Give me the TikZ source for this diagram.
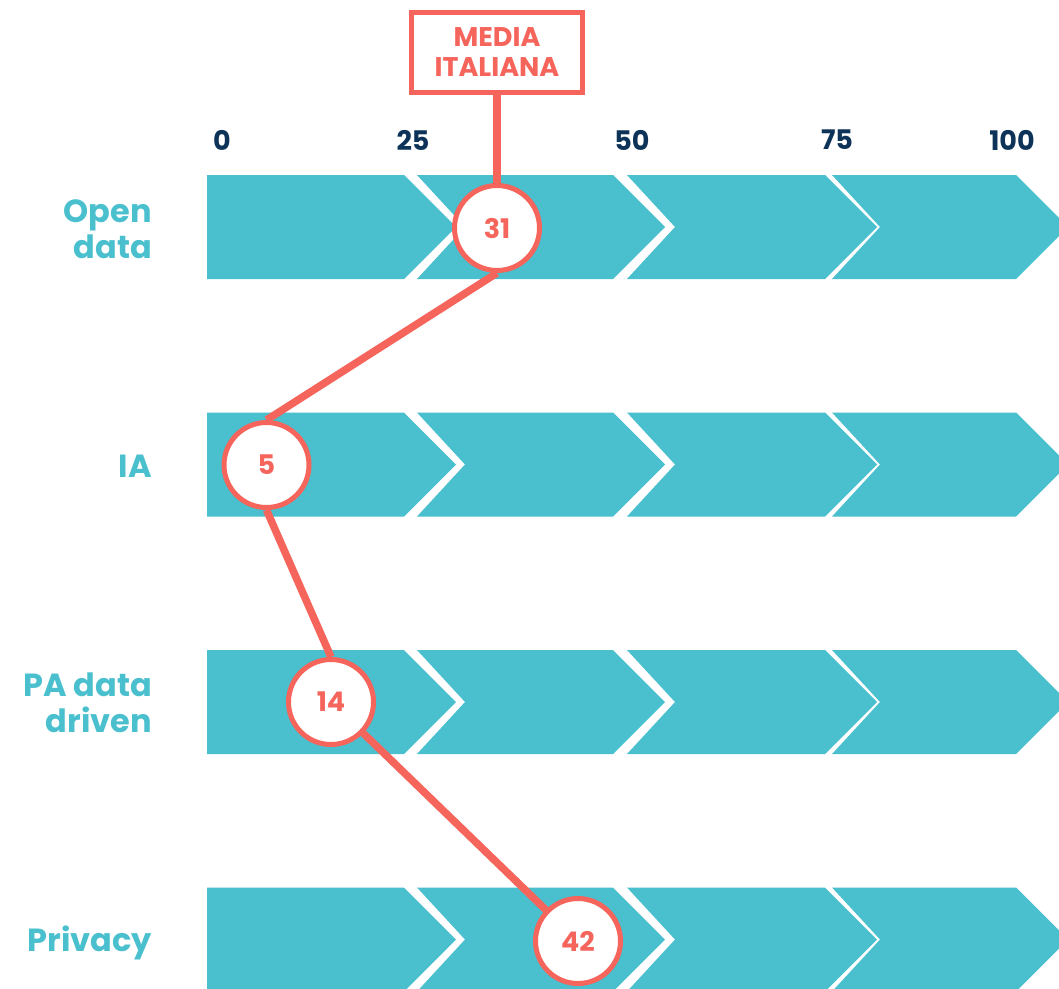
\documentclass[tikz,border=0pt]{standalone}
\usepackage{fontspec}
\setmainfont{Poppins}
\definecolor{teal}{RGB}{74,191,206}
\definecolor{coral}{RGB}{245,101,92}
\definecolor{navy}{RGB}{14,51,88}
\tikzset{
  bar/.style={fill=teal},
  dot/.style={circle,draw=coral,fill=white,line width=5pt,minimum size=85pt,inner sep=0pt,
    text=coral,font=\fontsize{27}{27}\selectfont\bfseries},
  link/.style={draw=coral,line width=7.5pt},
  rowlab/.style={anchor=east,align=right,text=teal,inner sep=0pt,font=\fontsize{32}{36}\selectfont\bfseries},
  tick/.style={text=navy,font=\fontsize{27}{27}\selectfont\bfseries},
  tag/.style={draw=coral,line width=5pt,minimum width=171pt,minimum height=80pt,align=center,
    text=coral,inner sep=0pt,font=\fontsize{27}{30}\selectfont\bfseries}
}
\begin{document}
\begin{tikzpicture}[x=1pt,y=-1pt]
  \clip (0,0) rectangle (1059,988);
  % chevron bars
  \foreach \y in {227,464.5,702,939.5}{
    \fill[bar] (207,\y-52) -- (404,\y-52) -- (456,\y) -- (404,\y+52) -- (207,\y+52) -- cycle;
    \foreach \a/\b in {417/613,627/825,832/1016}
      \fill[bar] (\a,\y-52) -- (\b,\y-52) -- (\b+52,\y) -- (\b,\y+52) -- (\a,\y+52) -- (\a+48,\y) -- cycle;
  }
  % axis
  \node[tick] (t0) at (222,140) {0};
  \node[tick] (t25) at (413,140) {25};
  \node[tick] (t50) at (632,140) {50};
  \node[tick] (t75) at (837,140) {75};
  \node[tick] (t100) at (1012,140) {100};
  % rows
  \node[rowlab] (lopen) at (152,229) {Open\\data};
  \node[rowlab] (lia) at (152,466) {IA};
  \node[rowlab] (lpa) at (152,703) {PA data\\driven};
  \node[rowlab] (lpriv) at (152,943) {Privacy};
  % values
  \node[tag] (media) at (497,52.5) {MEDIA\\ITALIANA};
  \node[dot] (od) at (497,228) {31};
  \node[dot] (ia) at (266.5,465) {5};
  \node[dot] (pa) at (331,702) {14};
  \node[dot] (priv) at (578,941) {42};
  \draw[link] (media) -- (od);
  \draw[link] (od.south) -- (ia.north);
  \draw[link] (ia.south) -- (pa.north);
  \draw[link] (pa) -- (priv);
\end{tikzpicture}
\end{document}
